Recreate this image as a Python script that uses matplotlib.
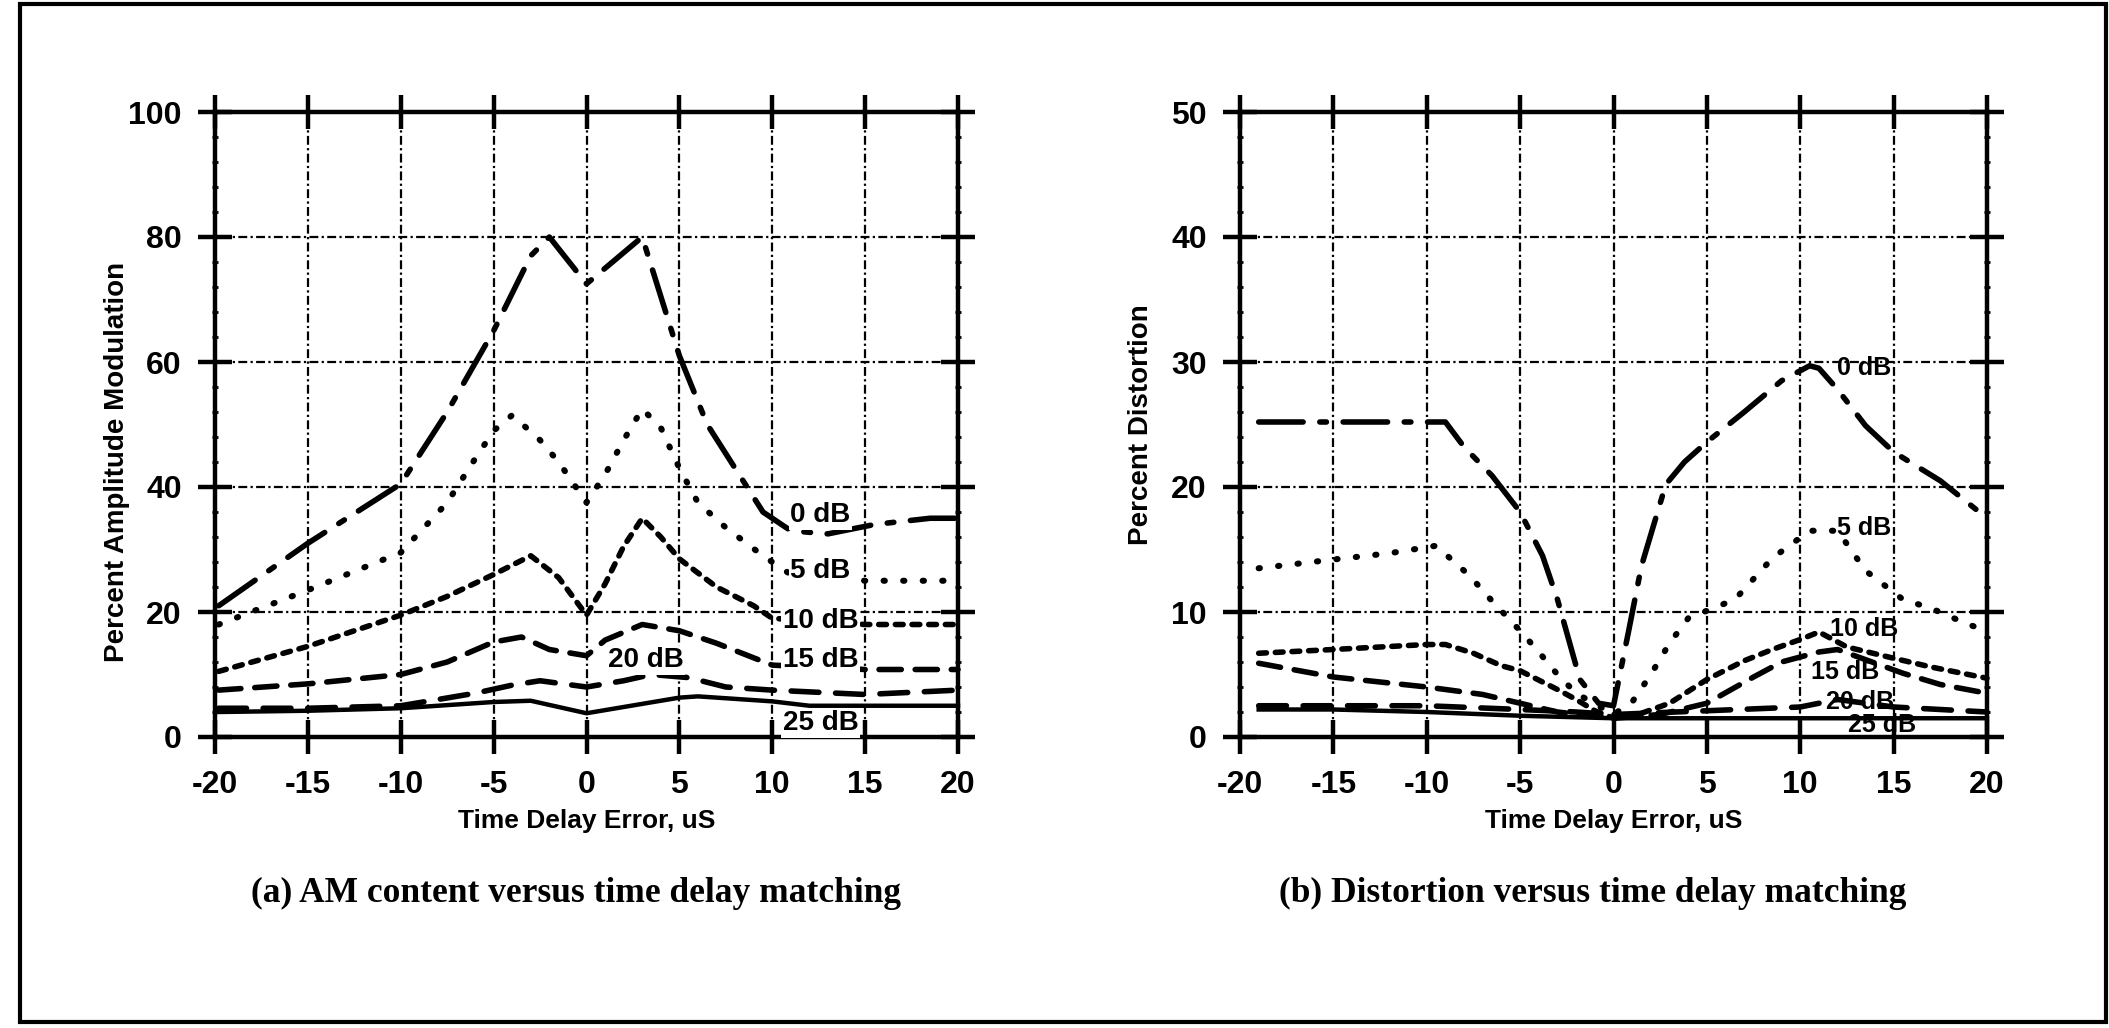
import numpy as np
import matplotlib.pyplot as plt
from matplotlib.patches import Rectangle

plt.rcParams['font.family'] = ['Liberation Sans Narrow', 'Liberation Sans', 'DejaVu Sans']
plt.rcParams['font.weight'] = 'bold'

# (a) AM content vs time delay error
am_0db_x = [-19.8, -15, -10, -7.5, -5, -3, -2, 0, 1, 3, 5, 6.5, 8, 9.5, 11, 13, 15.5, 18.5, 20]
am_0db_y = [21, 31, 40.5, 52, 65, 77, 80, 72.5, 75, 80, 61, 50, 43, 36, 33, 32.5, 34, 35, 35]
am_5db_x = [-19.8, -15, -10, -7.5, -6, -5, -4, -2.5, -1.5, 0, 1, 2, 3, 4, 5, 6, 7.5, 9.5, 11, 15, 20]
am_5db_y = [18, 23.5, 29.5, 37.5, 44.5, 49, 51.5, 47.5, 44, 37.5, 42, 47.5, 52.5, 49.5, 43, 37.5, 33.5, 29, 26, 25, 25]
am_10db_x = [-19.8, -15, -10, -7.5, -5, -3, -1.5, 0, 1, 2, 3, 4, 5, 7, 9, 10, 15, 20]
am_10db_y = [10.5, 14.5, 19.5, 22.5, 26, 29, 25.5, 19.5, 24.5, 30.5, 35, 32, 28.5, 24, 21, 19, 18, 18]
am_15db_x = [-19.8, -15, -10, -7.5, -5, -3.5, -2, 0, 1, 3, 5, 7, 10, 15, 20]
am_15db_y = [7.5, 8.5, 10, 12, 15.2, 16, 14, 13, 15.5, 18, 17, 15, 11.5, 10.8, 10.8]
am_20db_x = [-19.8, -15, -10, -6, -4, -2.5, 0, 2, 3.5, 5.5, 7.5, 10, 15, 20]
am_20db_y = [4.6, 4.6, 5, 7, 8.3, 9, 8, 9, 10, 9.5, 8, 7.5, 6.8, 7.5]
am_25db_x = [-19.8, -15, -10, -5, -3, 0, 3, 5, 6, 10, 12, 15, 20]
am_25db_y = [4, 4.2, 4.6, 5.6, 5.8, 3.8, 5.3, 6.3, 6.5, 5.7, 5, 5, 5]

# (b) distortion vs time delay error
ds_0db_x = [-19, -15, -10, -9, -8, -6.5, -5, -3.8, -3, -1.8, -0.8, 0, 0.8, 1.5, 2.8, 3.8, 5, 7, 9, 10.5, 11, 12, 13.5, 15, 17.5, 20]
ds_0db_y = [25.2, 25.2, 25.2, 25.2, 23.2, 20.9, 18, 14.5, 11, 4.6, 2.7, 2.5, 8.4, 13.7, 20.2, 22, 23.6, 26, 28.5, 29.7, 29.5, 27.8, 24.9, 22.8, 20.5, 17.5]
ds_5db_x = [-19, -15, -12, -9.5, -7.7, -6.7, -5, -4, -3, -2, 0, 1, 2, 3, 4, 6.5, 8.5, 10.5, 12, 13.5, 15.5, 17, 19, 20]
ds_5db_y = [13.5, 14.2, 14.7, 15.3, 12.9, 11.2, 8.5, 6.8, 5, 3.5, 1.8, 2.8, 5, 7.5, 9.5, 11, 14.3, 16.5, 16.5, 13.3, 11, 10.3, 9, 8.5]
ds_10db_x = [-19, -15, -10, -9, -7.5, -6, -5, -3, -2, -1, 0, 1.5, 3, 5, 7, 8.5, 10, 11, 12.5, 15, 17, 19, 20]
ds_10db_y = [6.7, 7, 7.4, 7.4, 6.7, 5.7, 5.3, 3.8, 3, 2.1, 1.5, 1.9, 2.7, 4.6, 6.1, 7, 7.8, 8.4, 7.2, 6.3, 5.6, 5, 4.7]
ds_15db_x = [-19, -15, -10, -7, -5, -3, 0, 2.5, 5, 7.5, 9, 11, 12, 15.5, 17.5, 20]
ds_15db_y = [5.9, 4.8, 4, 3.4, 2.7, 2, 1.5, 1.8, 2.7, 4.8, 6, 6.8, 7, 5.1, 4.2, 3.5]
ds_20db_x = [-19, -15, -10, -5, -2, 0, 5, 10, 12, 15, 20]
ds_20db_y = [2.5, 2.5, 2.5, 2.2, 2, 1.8, 2.1, 2.4, 3, 2.4, 2]
ds_25db_x = [-19, -15, -10, -5, 0, 5, 10, 15, 20]
ds_25db_y = [2.2, 2.2, 2, 1.7, 1.5, 1.5, 1.5, 1.5, 1.5]

line_labels = ['0 dB', '5 dB', '10 dB', '15 dB', '20 dB', '25 dB']
am_label_pos = [(12.6, 35.5), (12.6, 26.5), (12.6, 18.5), (12.6, 12.3), (3.2, 12.3), (12.6, 2.2)]
ds_label_pos = [(13.4, 29.5), (13.4, 16.7), (13.4, 8.6), (12.4, 5.2), (13.2, 2.8), (14.4, 1.0)]

xticks = [-20, -15, -10, -5, 0, 5, 10, 15, 20]
xticklabels = ['-20', '-15', '-10', '-5', '0', '5', '10', '15', '20']

styles = [
    dict(lw=4.0, linestyle=(0, (8, 3, 1.2, 3)), dash_capstyle='round'),
    dict(lw=4.4, linestyle=(0, (0.2, 3.0)), dash_capstyle='round'),
    dict(lw=4.0, linestyle=(0, (1.4, 1.6)), dash_capstyle='round'),
    dict(lw=4.0, linestyle=(0, (4, 2.5)), dash_capstyle='round'),
    dict(lw=4.0, linestyle=(0, (5, 3)), dash_capstyle='round'),
    dict(lw=3.2, linestyle='-'),
]

fig = plt.figure(figsize=(21.09, 10.28), dpi=100)
fig.patches.append(Rectangle((20 / 2109, 1 - 1022 / 1028), 2086 / 2109, 1018 / 1028,
                             transform=fig.transFigure, fill=False, lw=3, ec='black'))

ax1 = fig.add_axes([215 / 2109, 1 - 737 / 1028, 743 / 2109, 625 / 1028])
ax2 = fig.add_axes([1240 / 2109, 1 - 737 / 1028, 747 / 2109, 625 / 1028])


def setup(ax, ymax, ystep, yminor, ylabel, ylab_y):
    ax.set_xlim(-20, 20)
    ax.set_ylim(0, ymax)
    ax.set_xticks(xticks)
    ax.set_xticklabels(xticklabels)
    ax.set_yticks(np.arange(0, ymax + 1, ystep))
    ax.set_yticks(np.arange(0, ymax + 0.1, yminor), minor=True)
    ax.grid(True, which='major', color='black', lw=1.6, linestyle=(0, (1, 1.5, 4, 1.5)))
    for sp in ax.spines.values():
        sp.set_linewidth(3.2)
    ax.tick_params(which='major', direction='inout', length=24, width=3.2,
                   top=True, right=True, labelsize=23, pad=12)
    ax.tick_params(which='minor', axis='y', direction='inout', length=5, width=2,
                   left=True, right=True)
    ax.tick_params(axis='x', which='minor', bottom=False, top=False)
    ax.set_xlabel('Time Delay Error, uS', fontsize=19, fontweight='bold', labelpad=6)
    ax.set_ylabel(ylabel, fontsize=20, fontweight='bold')
    ax.yaxis.set_label_coords(-0.115, ylab_y)


setup(ax1, 100, 20, 4, 'Percent Amplitude Modulation', 0.44)
setup(ax2, 50, 10, 2, 'Percent Distortion', 0.50)

am_series = [(am_0db_x, am_0db_y), (am_5db_x, am_5db_y), (am_10db_x, am_10db_y),
             (am_15db_x, am_15db_y), (am_20db_x, am_20db_y), (am_25db_x, am_25db_y)]
ds_series = [(ds_0db_x, ds_0db_y), (ds_5db_x, ds_5db_y), (ds_10db_x, ds_10db_y),
             (ds_15db_x, ds_15db_y), (ds_20db_x, ds_20db_y), (ds_25db_x, ds_25db_y)]

for (x, y), st in zip(am_series, styles):
    ax1.plot(x, y, color='black', clip_on=False, **st)
for (x, y), st in zip(ds_series, styles):
    ax2.plot(x, y, color='black', clip_on=False, **st)

for lab, (px, py) in zip(line_labels, am_label_pos):
    ax1.text(px, py, lab, fontsize=20, fontweight='bold', ha='center', va='center',
             bbox=dict(fc='white', ec='none', pad=1), zorder=5)
for lab, (px, py) in zip(line_labels, ds_label_pos):
    ax2.text(px, py, lab, fontsize=18, fontweight='bold', ha='center', va='center', zorder=5)

fig.text(576 / 2109, 1 - 893 / 1028, '(a) AM content versus time delay matching',
         fontsize=25.5, fontweight='bold', ha='center', va='center', family=['Liberation Serif', 'DejaVu Serif'])
fig.text(1593 / 2109, 1 - 893 / 1028, '(b) Distortion versus time delay matching',
         fontsize=25.5, fontweight='bold', ha='center', va='center', family=['Liberation Serif', 'DejaVu Serif'])

fig.savefig('out.png', dpi=100, facecolor='white')
